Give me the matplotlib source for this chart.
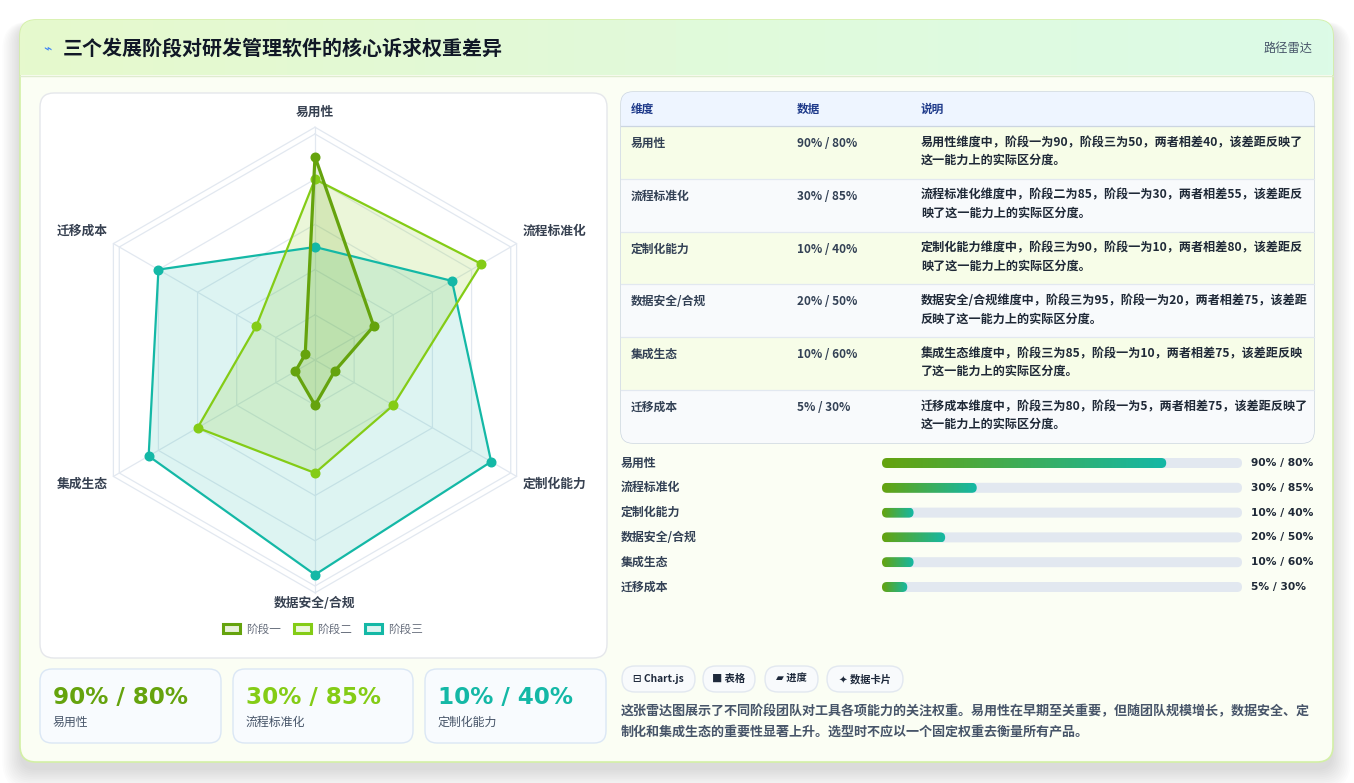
import numpy as np
import matplotlib.pyplot as plt
from matplotlib.patches import FancyBboxPatch, Patch, Rectangle
from matplotlib.colors import LinearSegmentedColormap, to_rgb

plt.rcParams['font.family'] = ['Noto Sans CJK SC', 'DejaVu Sans']

W, H = 1354, 783

### Data
title = "三个发展阶段对研发管理软件的核心诉求权重差异"
badge = "路径雷达"
dims = ["易用性", "流程标准化", "定制化能力", "数据安全/合规", "集成生态", "迁移成本"]
stage_names = ["阶段一", "阶段二", "阶段三"]
stage1 = [90, 30, 10, 20, 10, 5]
stage2 = [80, 85, 40, 50, 60, 30]
stage3 = [50, 70, 90, 95, 85, 80]
table_head = ["维度", "数据", "说明"]
notes = [
    "易用性维度中，阶段一为90，阶段三为50，两者相差40，该差距反映了\n这一能力上的实际区分度。",
    "流程标准化维度中，阶段二为85，阶段一为30，两者相差55，该差距反\n映了这一能力上的实际区分度。",
    "定制化能力维度中，阶段三为90，阶段一为10，两者相差80，该差距反\n映了这一能力上的实际区分度。",
    "数据安全/合规维度中，阶段三为95，阶段一为20，两者相差75，该差距\n反映了这一能力上的实际区分度。",
    "集成生态维度中，阶段三为85，阶段一为10，两者相差75，该差距反映\n了这一能力上的实际区分度。",
    "迁移成本维度中，阶段三为80，阶段一为5，两者相差75，该差距反映了\n这一能力上的实际区分度。",
]
tags = ["⊟ Chart.js", "■ 表格", "▰ 进度", "✦ 数据卡片"]
summary = ("这张雷达图展示了不同阶段团队对工具各项能力的关注权重。易用性在早期至关重要，但随团队规模增长，数据安全、定\n"
           "制化和集成生态的重要性显著上升。选型时不应以一个固定权重去衡量所有产品。")
kpi_idx = [0, 1, 2]

pairs = [f"{a}% / {b}%" for a, b in zip(stage1, stage2)]

### Styles
stage_colors = ["#65a30d", "#84cc16", "#14b8a6"]
stage_lw = [2.3, 1.6, 1.6]
stage_alpha = [0.16, 0.16, 0.14]
ring_levels = [20, 40, 60, 80, 100, 103]
grid_c = "#e2e8f0"
txt_dark = "#1f2937"
txt_mid = "#334155"
txt_soft = "#475569"
bar_max = 114
bar_min = 8
bar_cmap = LinearSegmentedColormap.from_list("g", ["#65a30d", "#14b8a6"])


def frac(x0, y0, x1, y1):
    return [x0 / W, 1 - y1 / H, (x1 - x0) / W, (y1 - y0) / H]


def rbox(ax, x0, y0, x1, y1, r, fc, ec="none", lw=1.0, z=1, alpha=1.0):
    p = FancyBboxPatch((x0 + r, y0 + r), x1 - x0 - 2 * r, y1 - y0 - 2 * r,
                       boxstyle=f"round,pad={r}", fc=fc, ec=ec, lw=lw,
                       zorder=z, alpha=alpha)
    ax.add_patch(p)
    return p


fig = plt.figure(figsize=(W / 100, H / 100), dpi=100)
fig.patch.set_facecolor("white")

####### Background canvas in pixel coords
ax = fig.add_axes([0, 0, 1, 1])
ax.set_xlim(0, W)
ax.set_ylim(H, 0)
ax.axis("off")

# soft shadow round the card
for k in range(12):
    rbox(ax, 20 - k * 1.6, 26 - k * 0.4, 1333 + k * 1.6, 770 + k * 1.8, 16 + k,
         fc="#000000", alpha=0.011, z=0)

card = rbox(ax, 20, 20, 1333, 762, 16, fc="#fbfef4", ec="#d3f0a6", lw=1.2, z=1)

# header band with gradient
hgrad = np.linspace(0, 1, 256).reshape(1, -1)
hcm = LinearSegmentedColormap.from_list("h", ["#e6f9cd", "#dcfbe7"])
im = ax.imshow(hgrad, extent=[20, 1333, 75, 20], cmap=hcm, aspect="auto", zorder=1.5)
im.set_clip_path(card)
ax.plot([20, 1333], [75.5, 75.5], color="#dfeccf", lw=1, zorder=1.6)

ax.text(47, 48, "⌁", color="#3b82f6", fontsize=10, ha="center", va="center", zorder=3)
ax.text(63, 48, title, color="#111827", fontsize=14.4, fontweight="bold",
        ha="left", va="center", zorder=3)
ax.text(1313, 48, badge, color=txt_soft, fontsize=8.8, ha="right", va="center", zorder=3)

# radar panel
rbox(ax, 40, 93, 607, 658, 14, fc="white", ec="#e5e7eb", lw=1, z=2)

# KPI cards
kpi_x = [(40, 221), (233, 413), (425, 606)]
for n, i in enumerate(kpi_idx):
    x0, x1 = kpi_x[n]
    rbox(ax, x0, 669, x1, 743, 12, fc="#f8fbfe", ec="#dbe7f5", lw=1, z=2)
    ax.text(x0 + 13, 697, pairs[i], color=stage_colors[n], fontsize=16.6,
            fontweight="bold", family="DejaVu Sans", ha="left", va="center", zorder=3)
    ax.text(x0 + 13, 722, dims[i], color=txt_soft, fontsize=8.6,
            ha="left", va="center", zorder=3)

# table
tab = rbox(ax, 621, 92, 1314, 443, 12, fc="white", ec="#cbd5e1", lw=1, z=2)
hdr = Rectangle((621, 92), 693, 34, fc="#eef5ff", ec="none", zorder=2.1)
ax.add_patch(hdr)
hdr.set_clip_path(tab)
ax.plot([621, 1314], [126, 126], color="#cbd5e1", lw=0.9, zorder=2.3)
col_x = [631, 797, 921]
for c, h in enumerate(table_head):
    ax.text(col_x[c], 109, h, color="#1e3a8a", fontsize=8.4, fontweight="bold",
            ha="left", va="center", zorder=3)
row_h = 52.8
for i in range(len(dims)):
    top = 126 + i * row_h
    rc = "#f7fde8" if i % 2 == 0 else "#f8fafc"
    rr = Rectangle((621, top), 693, row_h, fc=rc, ec="none", zorder=2.1)
    ax.add_patch(rr)
    rr.set_clip_path(tab)
    if i > 0:
        ax.plot([621, 1314], [top, top], color="#e2e8f0", lw=0.9, zorder=2.3)
    ax.text(col_x[0], top + 17.5, dims[i], color=txt_mid, fontsize=8.5,
            fontweight="bold", ha="left", va="center", zorder=3)
    ax.text(col_x[1], top + 17.5, pairs[i], color=txt_mid, fontsize=8.5,
            fontweight="bold", ha="left", va="center", zorder=3)
    ax.text(col_x[2], top + 10, notes[i], color=txt_dark, fontsize=8.7,
            fontweight="bold", ha="left", va="top", linespacing=1.5, zorder=3)

# progress labels and values
for i in range(len(dims)):
    y = 463 + i * 24.8
    ax.text(621, y, dims[i], color=txt_mid, fontsize=8.6, fontweight="bold",
            ha="left", va="center", zorder=3)
    ax.text(1251, y, pairs[i], color=txt_dark, fontsize=7.7, fontweight="bold",
            family="DejaVu Sans", ha="left", va="center", zorder=3)

# tags
tag_x = [(622, 695), (703, 755), (765, 818), (827, 903)]
for (x0, x1), t in zip(tag_x, tags):
    rbox(ax, x0, 666, x1, 692, 13, fc="#f8fafc", ec="#e2e8f0", lw=1, z=2)
    ax.text((x0 + x1) / 2, 679, t, color="#1e293b", fontsize=7.4, fontweight="bold",
            ha="center", va="center", zorder=3)

ax.text(621, 704.5, summary, color=txt_soft, fontsize=9.4, fontweight="bold",
        ha="left", va="top", linespacing=1.6, zorder=3)

ax.set_xlim(0, W)
ax.set_ylim(H, 0)

####### Radar chart
cx, cy, unit = 315, 360, 2.26
rmax = 110
rad = rmax * unit
axr = fig.add_axes(frac(cx - rad, cy - rad, cx + rad, cy + rad), projection="polar")
axr.set_facecolor("none")
axr.set_theta_offset(np.pi / 2)
axr.set_theta_direction(-1)
axr.set_ylim(0, rmax)
axr.grid(False)
axr.spines["polar"].set_visible(False)
axr.set_xticks([])
axr.set_yticks([])

theta = np.linspace(0, 2 * np.pi, len(dims), endpoint=False)
theta_c = np.append(theta, theta[0])
for lv in ring_levels:
    axr.plot(theta_c, [lv] * len(theta_c), color=grid_c, lw=0.9, zorder=1)
for t in theta:
    axr.plot([t, t], [0, ring_levels[-1]], color=grid_c, lw=0.9, zorder=1)

series = [stage1, stage2, stage3]
for k in [2, 1, 0]:
    vals = np.append(series[k], series[k][0])
    axr.fill(theta_c, vals, color=stage_colors[k], alpha=stage_alpha[k], lw=0, zorder=2)
    axr.plot(theta_c, vals, color=stage_colors[k], lw=stage_lw[k], zorder=3 + (2 - k))
    axr.plot(theta, series[k], "o", color=stage_colors[k], ms=6.2, zorder=4 + (2 - k))

for t, d in zip(theta, dims):
    s, c = np.sin(t), np.cos(t)
    ha = "left" if s > 0.1 else ("right" if s < -0.1 else "center")
    if c > 0.9:
        dy = 6.0
    elif c > 0.1:
        dy = 6.6
    elif c < -0.9:
        dy = -2.5
    else:
        dy = -3.0
    axr.annotate(d, xy=(t, 106), xytext=(0, dy), textcoords="offset points",
                 ha=ha, va="center", fontsize=9.2, fontweight="bold", color="#374151",
                 annotation_clip=False)

handles = [Patch(facecolor=(*to_rgb(c), 0.15), edgecolor=c, lw=2.2) for c in stage_colors]
fig.legend(handles, stage_names, loc="center", bbox_to_anchor=(323 / W, 1 - 629 / H),
           ncol=3, frameon=False, fontsize=8.4, handlelength=1.5, handleheight=0.9,
           columnspacing=1.1, handletextpad=0.5, labelcolor="#6b7280")

####### Progress bars
axb = fig.add_axes(frac(882, 463 - 12.4, 1242, 463 + 5 * 24.8 + 12.4))
axb.set_facecolor("none")
axb.axis("off")
px_x = bar_max / 360
px_y = 1 / 24.8
asp = px_y / px_x
bh = 10 * px_y
rs = 5 * px_x
for i, v in enumerate(stage1):
    w = max(v, bar_min)
    tr = FancyBboxPatch((0, i - bh / 2), bar_max, bh, boxstyle=f"round,pad=0,rounding_size={rs}",
                        mutation_aspect=asp, fc="#e2e8f0", ec="none", zorder=1)
    axb.add_patch(tr)
    fl = FancyBboxPatch((0, i - bh / 2), w, bh, boxstyle=f"round,pad=0,rounding_size={rs}",
                        mutation_aspect=asp, fc="none", ec="none", zorder=2)
    axb.add_patch(fl)
    g = axb.imshow(hgrad, extent=[0, w, i + bh / 2, i - bh / 2], cmap=bar_cmap,
                   aspect="auto", zorder=2)
    g.set_clip_path(fl)
axb.set_xlim(0, bar_max)
axb.set_ylim(5.5, -0.5)

plt.savefig("out.png", dpi=100)
